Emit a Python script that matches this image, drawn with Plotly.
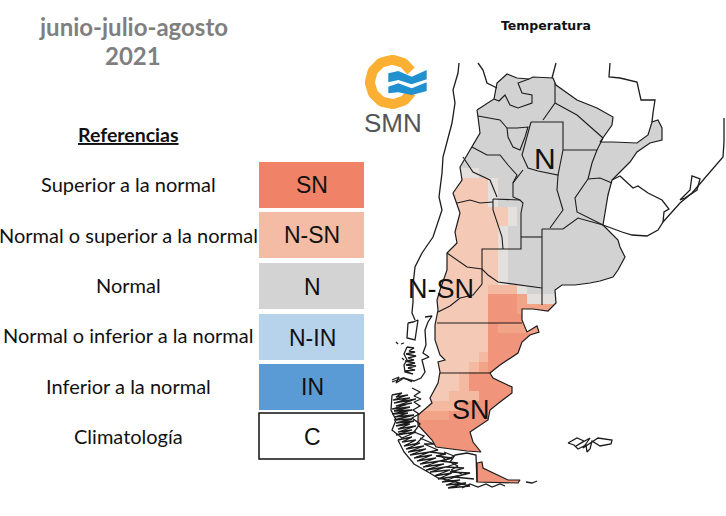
import numpy as np
import plotly.graph_objects as go

# texts
title_lines = ["junio-julio-agosto", "2021"]
legend_title = "Referencias"
legend_names = ["Superior a la normal", "Normal o superior a la normal", "Normal",
                "Normal o inferior a la normal", "Inferior a la normal", "Climatología"]
legend_codes = ["SN", "N-SN", "N", "N-IN", "IN", "C"]
legend_colors = ["#F08268", "#F4BCA4", "#D3D3D3", "#B7D3EC", "#5B9BD5", "#FFFFFF"]

# forecast grid, north to south, west to east, one digit per cell
# 0 normal, 1 almost normal, 2 N-SN, 3 and 4 in between, 5 SN
grid_rows = [
    "00011000000000", "22222210000000", "22222210000000", "22222210000000",
    "22222222100000", "22222222100000", "22222221000000", "22222221000000",
    "22222221000000", "22222221000000", "22222221000000", "22222221000000",
    "22222233310000", "22222255541110", "22222255544444", "22222255555555",
    "22222254444444", "22222255555555", "22222255555555", "22222355555555",
    "22223455555555", "22235555555555", "22235555555555", "22333555555555",
    "33355555555555", "44555555555555", "55555555555555", "55555555555555",
    "55555555555555", "55555555555555", "55555555555555", "55555555555555",
    "55555555555555",
]
grid_colors = ["#D2D2D2", "#E4E0DE", "#F4CAB7", "#F4B9A1", "#F2A488", "#F0957B"]

# map lines
argentina = [(477, 110), (494, 99), (497, 83), (507, 74), (517, 78), (529, 79), (533, 77), (553, 78),
             (556, 85), (577, 100), (597, 108), (613, 117), (612, 125), (603, 138), (600, 142), (613, 142),
             (633, 143), (637, 143), (648, 135), (652, 122), (658, 120), (662, 128), (662, 140), (650, 143),
             (637, 152), (630, 162), (620, 172), (612, 180), (608, 195), (605, 213), (603, 225), (618, 240),
             (620, 247), (625, 257), (618, 270), (613, 277), (600, 281), (590, 283), (575, 285), (562, 285),
             (555, 290), (556, 303), (548, 311), (533, 309), (522, 309), (522, 320), (527, 332), (537, 326),
             (539, 332), (530, 335), (522, 342), (518, 353), (500, 365), (490, 373), (493, 378), (512, 387),
             (512, 393), (500, 402), (490, 410), (488, 420), (480, 425), (470, 432), (473, 442), (481, 452),
             (467, 451), (436, 447), (432, 440), (418, 425), (418, 415), (432, 403), (430, 398), (438, 383),
             (440, 372), (438, 362), (445, 360), (440, 355), (435, 340), (435, 325), (438, 310), (437, 300),
             (440, 290), (447, 270), (447, 253), (457, 243), (455, 232), (460, 213), (453, 193), (462, 180),
             (460, 167), (468, 153), (480, 133), (478, 117)]
tierra_fuego = [(477, 463), (482, 462), (483, 468), (497, 475), (508, 480), (520, 480), (518, 483), (477, 482)]

provinces = [
    [(494, 99), (499, 101), (505, 95), (510, 105), (518, 108), (532, 103), (532, 95), (522, 93), (518, 83), (529, 79)],
    [(555, 83), (555, 103), (543, 120)],
    [(555, 103), (577, 115), (603, 138)],
    [(531, 122), (563, 122), (563, 150), (558, 175), (538, 171), (528, 168), (522, 155), (531, 122)],
    [(563, 150), (597, 150), (603, 138)],
    [(597, 150), (592, 163), (588, 179)],
    [(588, 179), (600, 178), (612, 183)],
    [(588, 179), (575, 198), (577, 212), (603, 225)],
    [(558, 175), (557, 190), (563, 210), (550, 228)],
    [(542, 229), (563, 229), (578, 218), (603, 225)],
    [(521, 237), (542, 237)],
    [(542, 229), (542, 305)],
    [(493, 199), (520, 200), (523, 203), (521, 213), (521, 249), (482, 249), (482, 270)],
    [(493, 199), (493, 210), (502, 237), (503, 249)],
    [(520, 200), (513, 197), (513, 183), (523, 170)],
    [(507, 128), (517, 128), (528, 127), (525, 137), (520, 150), (513, 147), (508, 137), (507, 128)],
    [(478, 116), (500, 120), (507, 128)],
    [(472, 147), (487, 155), (500, 155), (508, 165), (517, 175), (513, 183)],
    [(463, 157), (473, 172), (490, 180), (497, 197)],
    [(457, 203), (470, 200), (480, 203), (493, 202)],
    [(447, 253), (467, 267), (482, 269), (488, 275), (498, 282), (520, 285), (542, 288)],
    [(482, 270), (482, 284), (473, 295), (460, 298), (450, 306), (438, 312)],
    [(437, 323), (522, 323)],
    [(440, 373), (490, 373)],
]

neighbours = [
    [(459, 63), (458, 73), (453, 90), (455, 103), (452, 123), (443, 157), (442, 173), (439, 197), (442, 210),
     (433, 237), (422, 253), (415, 267), (413, 285), (413, 302), (412, 313), (415, 320)],
    [(478, 63), (483, 70), (487, 83), (497, 88)],
    [(556, 63), (552, 78)],
    [(610, 63), (609, 77), (620, 78), (637, 82), (641, 100), (655, 100), (653, 113), (652, 122)],
    [(612, 180), (620, 176), (633, 188), (638, 186), (648, 193), (662, 200), (669, 209), (664, 212), (663, 222),
     (658, 230), (647, 236), (632, 235), (622, 232), (603, 225)],
    [(663, 222), (680, 203), (692, 193), (703, 180), (718, 162), (723, 157), (724, 142), (724, 118)],
    [(680, 200), (690, 190), (692, 176), (700, 179), (697, 190), (685, 198), (680, 200)],
    [(408, 323), (413, 322), (418, 320), (415, 340), (407, 338), (408, 323)],
    [(425, 317), (432, 316), (428, 322), (425, 330), (426, 345), (423, 353), (429, 357), (422, 360), (425, 372),
     (421, 378), (414, 381), (403, 378), (392, 382)],
    # archipelago
    [(407, 347), (414, 348), (409, 351), (415, 352), (406, 354), (416, 356), (408, 358), (414, 360), (405, 361),
     (415, 363), (406, 365), (416, 366), (408, 368), (415, 370), (405, 371), (413, 374), (405, 372), (404, 365),
     (407, 360), (404, 354), (407, 347)],
    [(392, 380), (399, 377), (396, 383), (404, 378), (412, 382)],
    [(396, 342), (398, 344)], [(402, 358), (404, 360)], [(401, 344), (404, 343)],
    [(392, 395), (402, 393), (396, 397), (408, 395), (393, 400), (410, 398), (394, 403), (416, 399), (396, 406),
     (412, 403), (392, 409), (410, 407), (394, 411), (412, 410), (392, 414), (408, 413), (394, 417), (414, 415),
     (394, 420), (412, 419), (396, 423), (414, 421), (396, 426), (410, 424), (398, 429), (416, 426), (398, 432),
     (412, 430), (396, 435), (416, 432), (402, 438), (392, 430), (396, 420), (391, 410), (392, 395)],
    [(412, 388), (420, 392), (414, 396), (421, 399), (414, 402), (420, 406), (413, 410), (419, 414), (412, 418),
     (420, 424), (414, 432), (424, 436), (416, 444)],
    [(398, 440), (412, 437), (402, 442), (416, 440), (404, 446), (420, 443), (406, 449), (424, 446), (408, 452),
     (426, 449), (410, 455), (430, 452), (414, 458), (432, 455), (417, 461), (436, 458), (420, 464), (440, 461),
     (423, 467), (444, 464), (426, 470), (446, 467), (430, 472), (450, 470), (434, 476), (452, 473), (438, 479),
     (458, 476), (442, 482), (460, 480), (446, 485), (466, 483), (448, 488), (470, 486), (456, 482), (438, 478),
     (428, 472), (414, 464), (404, 452), (398, 440)],
    [(420, 438), (434, 444), (424, 444), (438, 450), (430, 452), (446, 454), (436, 456), (452, 458), (440, 461),
     (458, 463), (446, 467), (464, 468), (450, 472), (470, 473), (454, 477), (474, 479)],
    [(455, 455), (467, 453), (476, 455), (477, 482)],
    [(455, 455), (450, 462), (458, 466), (451, 470), (462, 474)],
    [(444, 452), (454, 456), (446, 460), (440, 455)],
    [(462, 488), (470, 484), (478, 487), (486, 484), (492, 487), (500, 484), (505, 486)],
    [(526, 482), (532, 483), (537, 481)],
    # Malvinas
    [(568, 443), (577, 438), (584, 441), (576, 446), (590, 438), (583, 448), (598, 438), (612, 440), (611, 444),
     (600, 446), (592, 441), (590, 449), (587, 452), (586, 445), (578, 449), (574, 445), (568, 443)],
]

# logo pieces
wave_top = [(388.3, 73.3), (398.3, 71), (411.7, 76.7), (426.7, 70), (426.7, 79.3), (411.7, 84.3), (398.3, 80),
            (388.3, 82.3), (388.3, 73.3)]
wave_low = [(388.3, 86.7), (398.3, 83.3), (411.7, 88.3), (426.7, 82.3), (426.7, 91), (411.7, 95), (398.3, 92.3),
            (388.3, 93.3), (388.3, 86.7)]


def xy(paths):
    xs, ys = [], []
    for p in paths:
        xs += [q[0] for q in p] + [None]
        ys += [q[1] for q in p] + [None]
    return xs[:-1], ys[:-1]


fig = go.Figure()

# forecast cells, padded to cover the whole country; the white mask below cuts them to shape
n_left, n_right, n_top = 2, 12, 11
cell = 9.7
rows = ["0" * (n_left + 14 + n_right)] * n_top + [r[0] * n_left + r + "0" * n_right for r in grid_rows]
z = [[int(c) for c in r] for r in rows]
fig.add_trace(go.Heatmap(
    z=z, x0=430 - cell * n_left + cell / 2, dx=cell, y0=168 - cell * n_top + cell / 2, dy=cell,
    zmin=0, zmax=5, showscale=False, hoverinfo="skip",
    colorscale=[[i / 5, c] for i, c in enumerate(grid_colors)],
))

box_rows = [185, 235, 286, 337, 387, 436]
fig.add_trace(go.Bar(
    y=box_rows, x=[105] * 6, base=[259] * 6, width=46, orientation="h",
    marker=dict(color=legend_colors, line=dict(color=["rgba(0,0,0,0)"] * 5 + ["#111111"], width=[0] * 5 + [1.5])),
    hoverinfo="skip",
))

box = [(405, 55), (405, 495), (690, 495), (690, 55), (405, 55)]
mx, my = xy([box, argentina + argentina[:1], tierra_fuego + tierra_fuego[:1]])
fig.add_trace(go.Scatter(x=mx, y=my, mode="lines", fill="toself", fillcolor="white", line=dict(width=0),
                         hoverinfo="skip"))

for paths, w in [(neighbours, 1.3), ([argentina + argentina[:1], tierra_fuego + tierra_fuego[:1]], 1.2), (provinces, 1.1)]:
    lx, ly = xy(paths)
    fig.add_trace(go.Scatter(x=lx, y=ly, mode="lines", line=dict(color="#1c1c1c", width=w), hoverinfo="skip"))

# SMN logo
ang = np.radians(np.linspace(30, 332, 60))
fig.add_trace(go.Scatter(x=392 + 22 * np.cos(ang), y=82 - 22 * np.sin(ang), mode="lines",
                         line=dict(color="#FBB034", width=10), hoverinfo="skip"))
for wave in (wave_top, wave_low):
    wx, wy = xy([wave])
    fig.add_trace(go.Scatter(x=wx, y=wy, mode="lines", fill="toself", fillcolor="#2090CE",
                             line=dict(width=0, color="#2090CE"), hoverinfo="skip"))

notes = []
for text, y in zip(title_lines, [26, 55]):
    notes.append(dict(x=133, y=y, text=f"<b>{text}</b>", font=dict(family="Lato", size=24, color="#7F7F7F")))
notes.append(dict(x=128, y=134, text=f"<b><u>{legend_title}</u></b>", font=dict(family="Lato", size=19.5, color="#111111")))
for name, y in zip(legend_names, [184, 235, 285, 335, 386, 436]):
    notes.append(dict(x=128, y=y, text=name, font=dict(family="Lato", size=20, color="#111111")))
for code, y in zip(legend_codes, [185, 235, 287, 338, 387, 437]):
    notes.append(dict(x=312, y=y, text=code, font=dict(family="Liberation Sans", size=23, color="#111111")))
notes.append(dict(x=546, y=25, text="<b>Temperatura</b>", font=dict(family="DejaVu Sans", size=12.5, color="#111111")))
notes.append(dict(x=393, y=123, text="SMN", font=dict(family="Liberation Sans", size=26, color="#555555")))
for text, x, y, s in [("N", 545, 158, 30), ("N-SN", 441, 289, 27), ("SN", 471, 410, 27)]:
    notes.append(dict(x=x, y=y, text=text, font=dict(family="Liberation Sans", size=s, color="#111111")))

fig.update_layout(
    width=726, height=516, margin=dict(l=0, r=0, t=0, b=0), showlegend=False,
    paper_bgcolor="white", plot_bgcolor="white", barmode="overlay",
    xaxis=dict(range=[0, 726], visible=False, fixedrange=True),
    yaxis=dict(range=[516, 0], visible=False, fixedrange=True),
    annotations=[dict(xref="x", yref="y", showarrow=False, xanchor="center", yanchor="middle", **n) for n in notes],
)

fig.write_html("out.html", config={"displayModeBar": False},
               post_script="document.body.style.margin='0';")
